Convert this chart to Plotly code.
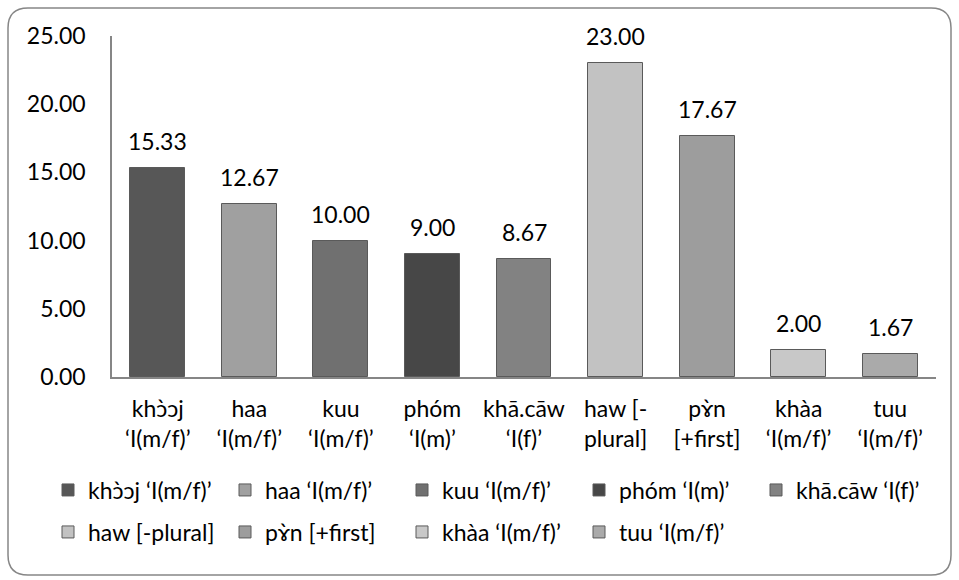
import plotly.graph_objects as go

categories = ["khɔ̀ɔj ‘I(m/f)’", "haa ‘I(m/f)’", "kuu ‘I(m/f)’", "phóm ‘I(m)’",
              "khā.cāw ‘I(f)’", "haw [-plural]", "pɤ̀n [+first]", "khàa ‘I(m/f)’", "tuu ‘I(m/f)’"]
tick_labels = ["khɔ̀ɔj<br>‘I(m/f)’", "haa<br>‘I(m/f)’", "kuu<br>‘I(m/f)’", "phóm<br>‘I(m)’",
               "khā.cāw<br>‘I(f)’", "haw [-<br>plural]", "pɤ̀n<br>[+first]", "khàa<br>‘I(m/f)’", "tuu<br>‘I(m/f)’"]
values = [15.33, 12.67, 10.00, 9.00, 8.67, 23.00, 17.67, 2.00, 1.67]
colors = ["#575757", "#a0a0a0", "#707070", "#474747", "#828282", "#c2c2c2", "#9d9d9d", "#c8c8c8", "#aaaaaa"]
y_ticks = [0, 5, 10, 15, 20, 25]

W, H = 959, 580
ML, MR, MT, MB = 112, 23, 36, 203
PW, PH = W - ML - MR, H - MT - MB

def xp(px):
    return (px - ML) / PW

def yp(py):
    return (H - MB - py) / PH

FONT = "Lato, 'DejaVu Sans', sans-serif"
AXF = 23

fig = go.Figure()
for i, (c, v, col) in enumerate(zip(categories, values, colors)):
    fig.add_trace(go.Bar(
        x=[c], y=[v], name=c, width=0.6,
        marker=dict(color=col, line=dict(color="#5a5a5a", width=1)),
        legend="legend" if i < 5 else "legend2",
        hoverinfo="skip",
    ))

for c, v in zip(categories, values):
    fig.add_annotation(x=c, y=v, text=f"{v:.2f}", showarrow=False, yshift=27,
                       font=dict(family=FONT, size=AXF, color="#000000"))

# rounded outer border
L, T, R, B, r = 8, 8, 951, 575, 20
path = (f"M {xp(L+r)},{yp(T)} L {xp(R-r)},{yp(T)} Q {xp(R)},{yp(T)} {xp(R)},{yp(T+r)} "
        f"L {xp(R)},{yp(B-r)} Q {xp(R)},{yp(B)} {xp(R-r)},{yp(B)} "
        f"L {xp(L+r)},{yp(B)} Q {xp(L)},{yp(B)} {xp(L)},{yp(B-r)} "
        f"L {xp(L)},{yp(T+r)} Q {xp(L)},{yp(T)} {xp(L+r)},{yp(T)} Z")
fig.add_shape(type="path", path=path, xref="paper", yref="paper",
              line=dict(color="#868686", width=1.5), layer="below")

legend_common = dict(orientation="h", xanchor="left", yanchor="middle",
                     font=dict(family=FONT, size=23, color="#000000"),
                     bgcolor="rgba(0,0,0,0)", entrywidth=132, entrywidthmode="pixels",
                     itemclick=False, itemdoubleclick=False, traceorder="normal")

fig.update_layout(
    width=W, height=H,
    margin=dict(l=ML, r=MR, t=MT, b=MB, autoexpand=False),
    paper_bgcolor="white", plot_bgcolor="white",
    barmode="overlay", bargap=0,
    font=dict(family=FONT, size=AXF, color="#000000"),
    xaxis=dict(type="category", categoryorder="array", categoryarray=categories,
               tickvals=categories, ticktext=tick_labels, range=[-0.5, 8.5],
               showline=True, linecolor="#868686", linewidth=1.5, ticks="",
               showgrid=False, ticklabelstandoff=11, zeroline=False,
               tickfont=dict(family=FONT, size=AXF, color="#000000")),
    yaxis=dict(range=[0, 25], tickvals=y_ticks, ticktext=[f"{t:.2f}" for t in y_ticks],
               showline=True, linecolor="#868686", linewidth=1.5, ticks="",
               showgrid=False, zeroline=False, ticklabelstandoff=20,
               tickfont=dict(family=FONT, size=AXF, color="#000000")),
    legend=dict(x=xp(48), y=yp(490), **legend_common),
    legend2=dict(x=xp(48), y=yp(532), **legend_common),
    showlegend=True,
)

fig.write_html("out.html")
